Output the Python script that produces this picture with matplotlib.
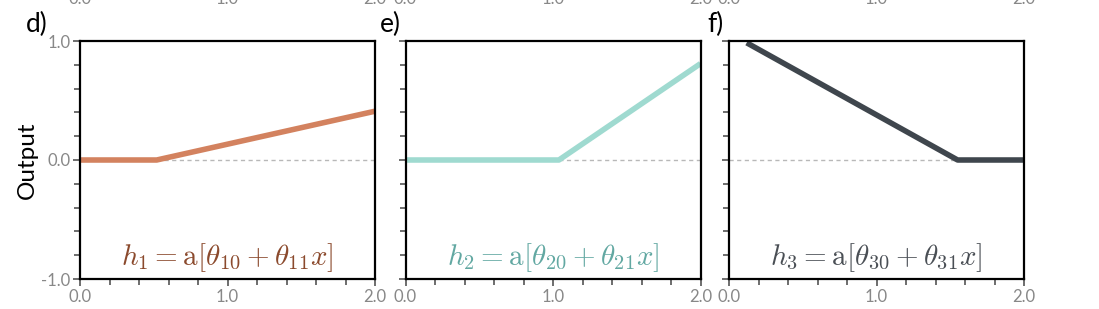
import numpy as np
import matplotlib
matplotlib.use("Agg")
import matplotlib.pyplot as plt
from matplotlib.ticker import MultipleLocator

plt.rcParams["font.family"] = ["Lato", "DejaVu Sans"]
plt.rcParams["mathtext.fontset"] = "cm"

# data: each hidden unit output vs input x
x_d = [0.0, 0.52, 2.0]
y_d = [0.0, 0.0, 0.41]
x_e = [0.0, 1.04, 2.0]
y_e = [0.0, 0.0, 0.81]
x_f = [0.12, 1.55, 2.0]
y_f = [0.985, 0.0, 0.0]

panel_labels = ["d)", "e)", "f)"]
equations = [r"$h_1 = \mathrm{a}[\theta_{10} + \theta_{11}x]$",
             r"$h_2 = \mathrm{a}[\theta_{20} + \theta_{21}x]$",
             r"$h_3 = \mathrm{a}[\theta_{30} + \theta_{31}x]$"]
line_colors = ["#d3825f", "#9fdad0", "#3f464d"]
text_colors = ["#8b4a2d", "#62a8a2", "#4a4f55"]
xticks = [0.0, 1.0, 2.0]
xticklabels = ["0.0", "1.0", "2.0"]
yticks = [-1.0, 0.0, 1.0]
yticklabels = ["-1.0", "0.0", "1.0"]

fig = plt.figure(figsize=(10.99, 3.09), dpi=100)
lefts = [80 / 1099, 405.5 / 1099, 729 / 1099]
label_x = [26 / 1099, 380 / 1099, 707 / 1099]
w = 295 / 1099
b = 30 / 309
h = 238 / 309

data = [(x_d, y_d), (x_e, y_e), (x_f, y_f)]
for i, (xs, ys) in enumerate(data):
    ax = fig.add_axes([lefts[i], b, w, h])
    ax.plot([0, 2], [0, 0], color="#b8b8b8", lw=1.0, ls=(0, (3, 2.5)), zorder=1)
    ax.plot(xs, ys, color=line_colors[i], lw=4, solid_capstyle="butt", zorder=2)
    ax.set_xlim(0, 2)
    ax.set_ylim(-1, 1)
    ax.set_xticks(xticks)
    ax.set_xticklabels(xticklabels)
    ax.set_yticks(yticks)
    if i == 0:
        ax.set_yticklabels(yticklabels)
        ax.set_ylabel("Output", fontsize=17.5, labelpad=2)
    else:
        ax.set_yticklabels([])
    ax.xaxis.set_minor_locator(MultipleLocator(0.2))
    ax.yaxis.set_minor_locator(MultipleLocator(0.2))
    ax.tick_params(which="both", direction="out", color="#555555", width=1.2,
                   labelcolor="#888888", labelsize=12, pad=2)
    ax.tick_params(which="major", length=5)
    ax.tick_params(which="minor", length=4)
    for sp in ax.spines.values():
        sp.set_linewidth(1.6)
        sp.set_color("black")
    ax.text(0.5, 0.02, equations[i], transform=ax.transAxes, ha="center",
            va="bottom", fontsize=21, color=text_colors[i])
    fig.text(label_x[i], 1 - 32 / 309, panel_labels[i], fontsize=19,
             ha="left", va="baseline")
    # tick labels of the panel row above, cut off by the top edge
    for xv, lab in zip(xticks, xticklabels):
        fig.text(lefts[i] + w * xv / 2, 1 - 4 / 309, lab, fontsize=12,
                 color="#888888", ha="center", va="baseline")

fig.savefig("out.png", dpi=100)
